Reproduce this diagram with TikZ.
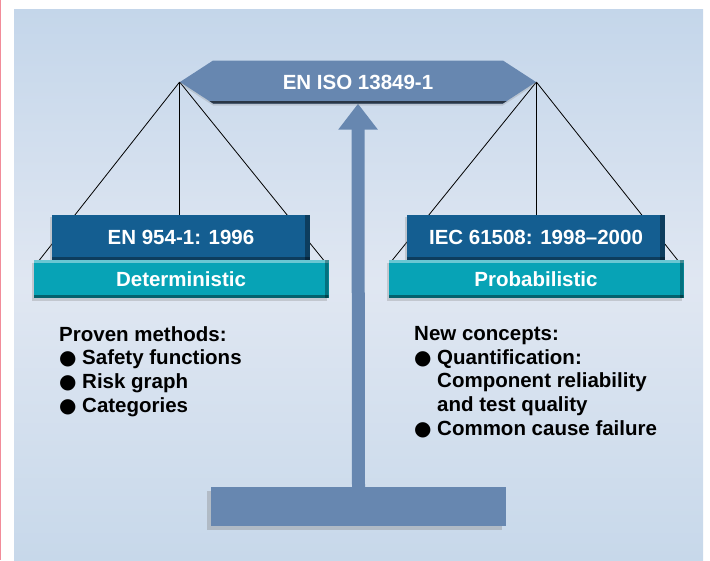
\documentclass[tikz,border=0pt]{standalone}
\usepackage{fontspec}
\setmainfont{Liberation Sans}
\newfontfamily\bulletfont{DejaVu Sans}
\usetikzlibrary{shapes.symbols, arrows.meta, positioning, shadows}
\definecolor{beamblue}{HTML}{6787B0}
\definecolor{navybox}{HTML}{145E91}
\definecolor{tealbox}{HTML}{07A3B6}
\definecolor{bgtop}{HTML}{C4D6EA}
\definecolor{bgmid}{HTML}{E0E7F2}
\definecolor{bgbot}{HTML}{C7D8EA}
\definecolor{edgepink}{HTML}{F28C9A}
\pgfdeclarelayer{back}
\pgfsetlayers{back,main}
\newcommand{\blt}{\makebox[23pt][l]{{\fontsize{20}{20}\bulletfont ●}}}
\newcommand{\cont}{\hspace*{23pt}}

\begin{document}
\begin{tikzpicture}[
      x=1pt, y=-1pt,
      font=\fontsize{20.5}{23.7}\selectfont\bfseries,
      beam/.style={signal, signal to=west and east, signal pointer angle=66,
                   minimum width=356pt, minimum height=43pt, inner sep=0pt,
                   fill=beamblue, text=white,
                   drop shadow={shadow xshift=0pt, shadow yshift=-2pt, opacity=.25},
                   path picture={\fill[black!60!beamblue] (path picture bounding box.south west)
                                 rectangle ([yshift=3pt]path picture bounding box.south east);}},
      stdbox/.style={rectangle, fill=navybox, text=white, minimum width=258pt,
                     minimum height=45pt, inner sep=0pt,
                     drop shadow={shadow xshift=-2pt, shadow yshift=-2pt, opacity=.3},
                     path picture={
                       \fill[black,opacity=.35] ([xshift=-5pt]path picture bounding box.north east)
                         rectangle (path picture bounding box.south east);
                       \fill[black,opacity=.35] (path picture bounding box.south west)
                         rectangle ([yshift=3pt]path picture bounding box.south east);}},
      modebox/.style={rectangle, fill=tealbox, text=white, minimum width=295pt,
                      minimum height=38pt, inner sep=0pt,
                      drop shadow={shadow xshift=-2pt, shadow yshift=-3pt, opacity=.3},
                      path picture={
                        \fill[white,opacity=.4] (path picture bounding box.north west)
                          rectangle ([yshift=-3pt]path picture bounding box.north east);
                        \fill[black,opacity=.3] ([xshift=-4pt]path picture bounding box.north east)
                          rectangle (path picture bounding box.south east);
                        \fill[black,opacity=.4] (path picture bounding box.south west)
                          rectangle ([yshift=3pt]path picture bounding box.south east);}},
      basebox/.style={rectangle, fill=beamblue, minimum width=295pt, minimum height=39pt,
                      inner sep=0pt,
                      drop shadow={shadow xshift=-4pt, shadow yshift=-4pt, opacity=.35}},
      listtxt/.style={anchor=north west, align=left, inner sep=0pt},
      string/.style={line width=0.8pt, black},
      post/.style={line width=13pt, beamblue, -{Triangle[width=38pt, length=26pt]}}
    ]
    \useasboundingbox (0,0) rectangle (710,560);

    % backdrop
    \begin{pgfonlayer}{back}
      \fill[top color=bgtop, bottom color=bgbot, middle color=bgmid] (14,9) rectangle (703,560);
      \fill[edgepink] (0,0) rectangle (1.2,560);
    \end{pgfonlayer}

    % balance
    \node[beam] (beam) at (358,82) {EN ISO 13849-1};
    \node[basebox] (base) at (358.5,506.5) {};

    \node[stdbox] (euro) at (181,237.5) {EN 954-1: 1996};
    \node[modebox, below=0pt of euro] (det) {Deterministic};
    \node[stdbox] (iec) at (536,237.5) {IEC 61508: 1998--2000};
    \node[modebox, below=0pt of iec] (prob) {Probabilistic};

    \node[listtxt] (proven) at (59,326) {Proven methods:\\
      \blt Safety functions\\
      \blt Risk graph\\
      \blt Categories};
    \node[listtxt] (newc) at (414,326) {New concepts:\\
      \blt Quantification:\\
      \cont Component reliability\\
      \cont and test quality\\
      \blt Common cause failure};

    \begin{pgfonlayer}{back}
      \draw[post] (base.north) -- (beam.south);
      % strings
      \draw[string] (beam.west) -- ([xshift=6pt]det.north west);
      \draw[string] (beam.west) -- (beam.west |- euro.north);
      \draw[string] (beam.west) -- ([xshift=-5pt]det.north east);
      \draw[string] (beam.east) -- ([xshift=4pt]prob.north west);
      \draw[string] (beam.east) -- (beam.east |- iec.north);
      \draw[string] (beam.east) -- ([xshift=-6pt]prob.north east);
    \end{pgfonlayer}
  \end{tikzpicture}
\end{document}
